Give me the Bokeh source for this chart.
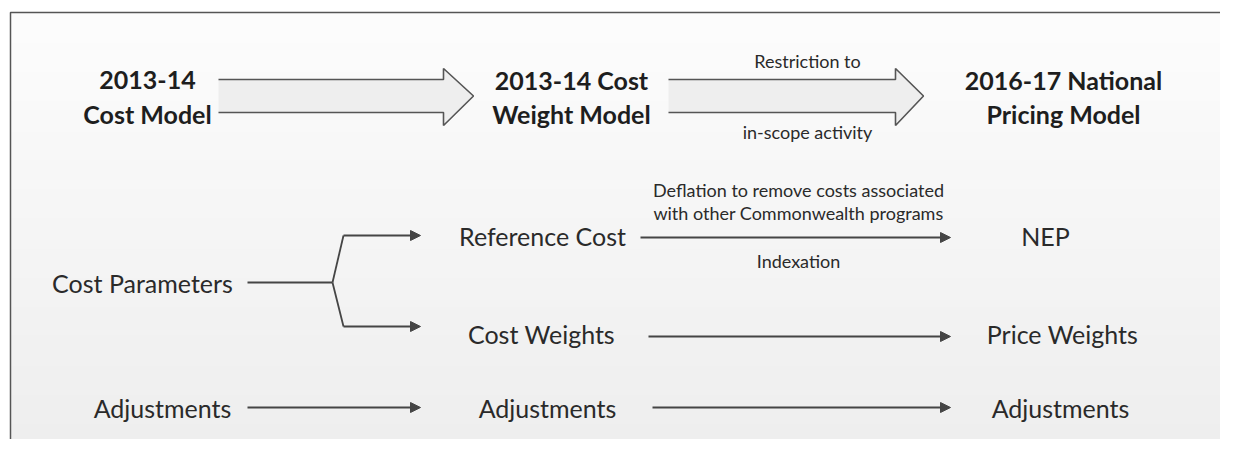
import numpy as np
from bokeh.plotting import figure
from bokeh.models import Range1d, ColumnDataSource, Arrow, NormalHead
from bokeh.core.properties import value
from bokeh.embed import file_html
from bokeh.resources import INLINE

# ---- diagram content (positions in page pixels) ----
title_text = ["2013-14", "Cost Model", "2013-14 Cost", "Weight Model", "2016-17 National", "Pricing Model"]
title_x = [147, 147, 571, 571, 1063, 1063]
title_y = [79, 113, 79, 113, 79, 113]

node_text = ["Reference Cost", "NEP", "Cost Parameters", "Cost Weights", "Price Weights",
             "Adjustments", "Adjustments", "Adjustments"]
node_x = [542, 1045, 142, 541, 1062, 162, 547, 1060]
node_y = [235, 235, 282, 333, 333, 407, 407, 407]

note_text = ["Restriction to", "in-scope activity", "Deflation to remove costs associated",
             "with other Commonwealth programs", "Indexation"]
note_x = [807, 807, 798, 798, 798]
note_y = [60, 131, 189, 212, 260]

# block arrows: start, head base, tip
block_x0 = [218, 668]
block_xb = [443, 895]
block_xt = [473, 923]
block_shaft = (79, 112)
block_head = (68, 125)

# thin arrows
arr_x0 = [343, 343, 640, 648, 247, 652]
arr_x1 = [420, 420, 950, 950, 420, 950]
arr_y = [235, 326, 237, 336, 407, 407]

# brace connector lines
brace_xs = [[247, 332], [332, 343], [332, 343]]
brace_ys = [[282, 282], [282, 235], [282, 326]]

LINE = "#454545"
FONT = value("Lato")

p = figure(width=1220, height=439, x_range=Range1d(0, 1220), y_range=Range1d(439, 0),
           output_backend="svg", toolbar_location=None, min_border=0,
           x_axis_type=None, y_axis_type=None)
p.grid.visible = False
p.outline_line_color = None
p.background_fill_color = "white"
p.border_fill_color = "white"

# background gradient
n = 200
shade = np.linspace(253, 238, n).astype(np.uint8)
img = np.empty((n, 1), dtype=np.uint32)
view = img.view(dtype=np.uint8).reshape((n, 1, 4))
view[:, 0, 0] = shade
view[:, 0, 1] = shade
view[:, 0, 2] = shade
view[:, 0, 3] = 255
p.image_rgba(image=[img], x=10, y=12, dw=1210, dh=443)

# frame
p.line([10, 10, 1220], [455, 12, 12], line_color="#555555", line_width=1.5)

# block arrows
sx, sy = [], []
for x0, xb, xt in zip(block_x0, block_xb, block_xt):
    tipy = (block_shaft[0] + block_shaft[1]) / 2
    sx.append([x0, xb, xb, xt, xb, xb, x0])
    sy.append([block_shaft[0], block_shaft[0], block_head[0], tipy, block_head[1], block_shaft[1], block_shaft[1]])
p.patches(sx, sy, fill_color="#eeeeee", line_color=None)
p.multi_line(sx, sy, line_color="#555555", line_width=1.6)

# thin lines and arrows
p.multi_line(brace_xs, brace_ys, line_color=LINE, line_width=1.8)
src = ColumnDataSource(dict(x0=arr_x0, x1=arr_x1, y=arr_y))
p.add_layout(Arrow(end=NormalHead(size=10, fill_color=LINE, line_color=LINE, line_width=1),
                   x_start="x0", y_start="y", x_end="x1", y_end="y", source=src,
                   line_color=LINE, line_width=1.8))

# texts
p.text(title_x, title_y, text=title_text, text_font=FONT, text_font_style="bold",
       text_font_size="25px", text_align="center", text_baseline="middle", text_color="#1e1e1e")
p.text(node_x, node_y, text=node_text, text_font=FONT, text_font_size="25px",
       text_align="center", text_baseline="middle", text_color="#2a2a2a")
p.text(note_x, note_y, text=note_text, text_font=FONT, text_font_size="18px",
       text_align="center", text_baseline="middle", text_color="#2a2a2a")

open("out.html", "w").write(file_html(p, INLINE))
